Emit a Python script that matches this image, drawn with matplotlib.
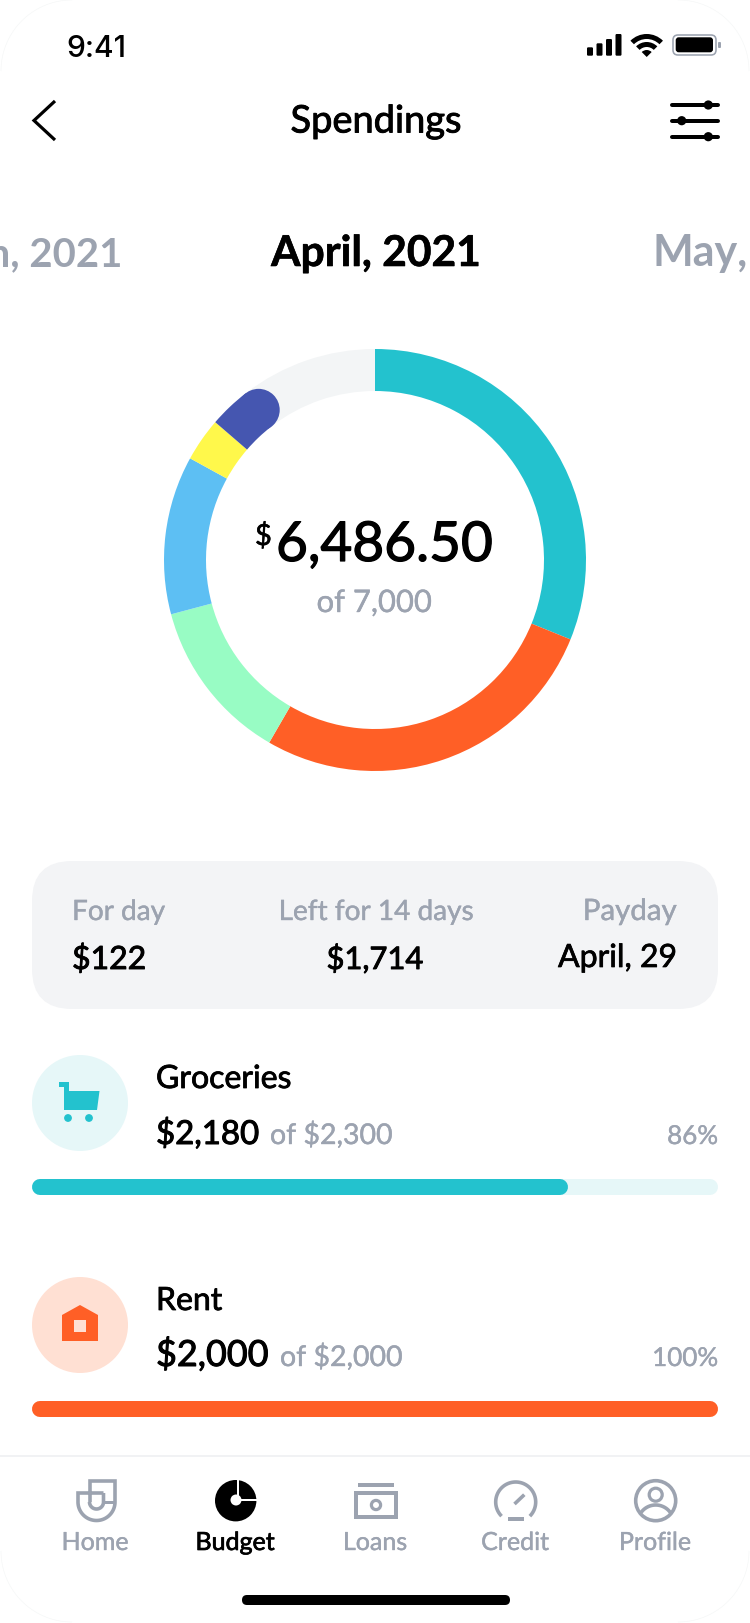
import numpy as np
import matplotlib
matplotlib.use("Agg")
import matplotlib.pyplot as plt
import matplotlib.patheffects as pe
from matplotlib.patches import Circle, FancyBboxPatch, Polygon, Rectangle, Wedge

# amounts along the ring, out of the 7,000 budget
donut_labels = ["Groceries", "Rent", "Health", "Transport", "Fun", "Other", "Left"]
donut_values = [2180, 1905, 875, 850, 233, 222, 735]
donut_colors = ["#23C2CE", "#FF5F26", "#98FCC4", "#5DBFF3", "#FFF84B", "#4556B0", "#F3F5F6"]

summary_heads = ["For day", "Left for 14 days", "Payday"]
summary_values = ["$122", "$1,714", "April, 29"]

cat_names = ["Groceries", "Rent"]
cat_spent = ["$2,180", "$2,000"]
cat_limit = ["of $2,300", "of $2,000"]
cat_pct = ["86%", "100%"]
cat_fill = [77.6, 100]
cat_colors = ["#23C2CE", "#FF5F26"]
cat_tracks = ["#E6F7F8", "#FFE0D3"]

nav_labels = ["Home", "Budget", "Loans", "Credit", "Profile"]

GRAY = "#9CA3B0"
FONT = "Lato"
W, H = 750, 1624

fig = plt.figure(figsize=(W / 100, H / 100), dpi=100, facecolor="white")
ax = fig.add_axes([0, 0, 1, 1])
ax.set_xlim(0, W)
ax.set_ylim(H, 0)
ax.axis("off")


def px(v):
    return v * 72 / 100


def txt(x, y, s, size, color="black", weight="normal", ha="left", family=FONT, heavy=0):
    t = ax.text(x, y, s, fontsize=px(size), color=color, fontweight=weight, ha=ha,
                va="baseline", family=family)
    if heavy:
        t.set_path_effects([pe.withStroke(linewidth=px(heavy), foreground=color)])


def line(xs, ys, lw, color="black", cap="butt", join="miter"):
    ax.plot(xs, ys, lw=px(lw), color=color, solid_capstyle=cap, solid_joinstyle=join)


def arc(cx, cy, r, a0, a1):
    t = np.radians(np.linspace(a0, a1, 60))
    return cx + r * np.cos(t), cy + r * np.sin(t)


def rbox(x0, y0, x1, y1, r, color):
    ax.add_patch(FancyBboxPatch((x0 + r, y0 + r), x1 - x0 - 2 * r, y1 - y0 - 2 * r,
                                boxstyle=f"round,pad={r},rounding_size={r}",
                                fc=color, ec="none"))


# phone outline, barely visible
for ccx, ccy, a0 in [(72, 72, 180), (W - 72, 72, 270), (W - 72, H - 72, 0), (72, H - 72, 90)]:
    ox, oy = arc(ccx, ccy, 71, a0, a0 + 90)
    line(ox, oy, 0.6, "#F4F6F6")

# status bar
txt(66, 57, "9:41", 30, weight="medium", family="Inter")
for x0, top in zip([587, 596.5, 606, 615.5], [48.3, 44.3, 40, 35]):
    rbox(x0, top, x0 + 6, 56.7, 1.2, "black")
ax.add_patch(Wedge((646.7, 58), 23, -135, -45, width=5, fc="black", ec="none"))
ax.add_patch(Wedge((646.7, 58), 15, -135, -45, width=5, fc="black", ec="none"))
ax.add_patch(Wedge((646.7, 58), 7, -135, -45, fc="black", ec="none"))
ax.add_patch(FancyBboxPatch((676, 39), 37, 14, boxstyle="round,pad=3,rounding_size=5",
                            fc="none", ec=GRAY, lw=px(1.6)))
rbox(675.7, 38.3, 713, 53.3, 3, "black")
rbox(718, 43, 721, 49, 1, GRAY)

# header
line([55, 34, 55], [102, 121.5, 141], 3.2)
txt(376, 133.5, "Spendings", 38, ha="center", heavy=0.9)
for y, kx in zip([106, 121.7, 137.7], [708.3, 681.7, 708.3]):
    line([672.3, 717.7], [y, y], 4, cap="round")
    ax.add_patch(Circle((kx, y), 4.6, fc="black", ec="none"))

# months
txt(122, 266, "March, 2021", 40, GRAY, "bold", ha="right")
txt(376, 267, "April, 2021", 42.5, "black", "bold", ha="center", heavy=0.6)
txt(653, 266, "May,", 43, GRAY, "bold")

# donut
cx, cy, R = 375, 561, 211
dax = fig.add_axes([(cx - R) / W, 1 - (cy + R) / H, 2 * R / W, 2 * R / H])
dax.pie(donut_values, colors=donut_colors, startangle=90, counterclock=False, radius=1,
        wedgeprops={"width": 42 / R, "edgecolor": "none"})
dax.set_xlim(-1, 1)
dax.set_ylim(-1, 1)
cap_angle = np.radians(90 - sum(donut_values[:6]) / sum(donut_values) * 360)
dax.add_patch(Circle((0.9 * np.cos(cap_angle), 0.9 * np.sin(cap_angle)), 0.1,
                     fc=donut_colors[5], ec="none"))
txt(255, 546, "$", 29, heavy=0.6)
txt(276, 562, "6,486.50", 55, heavy=1.2)
txt(374, 613, "of 7,000", 31, GRAY, ha="center", heavy=0.4)

# summary card
rbox(32, 862, 718, 1010, 40, "#F3F4F6")
txt(72, 921, summary_heads[0], 28, GRAY, heavy=0.4)
txt(376, 921, summary_heads[1], 28, GRAY, ha="center", heavy=0.4)
txt(677, 921, summary_heads[2], 29.5, GRAY, ha="right", heavy=0.4)
txt(72, 970, summary_values[0], 32, heavy=0.9)
txt(375, 970, summary_values[1], 31, ha="center", heavy=0.9)
txt(677, 968, summary_values[2], 32, ha="right", heavy=0.7)

# category rows
row_icon_y = [1104, 1326]
row_name_y = [1089, 1311]
row_val_y = [1145, 1367]
row_bar_y = [1188, 1410]
limit_x = [270, 280]
spent_size = [33, 36]
for i in range(2):
    ax.add_patch(Circle((80, row_icon_y[i]), 48, fc=cat_tracks[i], ec="none"))
    txt(156, row_name_y[i], cat_names[i], 32, heavy=0.8)
    txt(156, row_val_y[i], cat_spent[i], spent_size[i], heavy=1)
    txt(limit_x[i], row_val_y[i], cat_limit[i], 28.5, GRAY, heavy=0.4)
    txt(718, row_val_y[i], cat_pct[i], 26, GRAY, ha="right", heavy=0.4)

    # progress bar has its own 0-100 scale, caps add the last 8 px
    bax = fig.add_axes([40 / W, 1 - (row_bar_y[i] + 8) / H, 670 / W, 16 / H])
    bax.set_xlim(0, 100)
    bax.set_ylim(-1, 1)
    bax.axis("off")
    for val, col in ((100, cat_tracks[i]), (cat_fill[i], cat_colors[i])):
        ln, = bax.plot([0, val], [0, 0], lw=px(16), color=col, solid_capstyle="round")
        ln.set_clip_on(False)

# cart icon
ax.add_patch(Polygon([(64, 1092), (99.5, 1092), (97, 1111), (64, 1111)], fc=cat_colors[0], ec="none"))
ax.add_patch(Rectangle((64, 1083), 5, 10, fc=cat_colors[0], ec="none"))
ax.add_patch(Rectangle((58.5, 1083), 6, 4.5, fc=cat_colors[0], ec="none"))
ax.add_patch(Circle((68, 1119), 3.9, fc=cat_colors[0], ec="none"))
ax.add_patch(Circle((89, 1119), 3.9, fc=cat_colors[0], ec="none"))

# house icon
ax.add_patch(Polygon([(62, 1316), (80, 1306), (98, 1316), (98, 1342), (62, 1342)], fc=cat_colors[1], ec="none"))
ax.add_patch(Rectangle((74, 1321), 12, 12, fc=cat_tracks[1], ec="none"))

# bottom nav
line([0, W], [1457, 1457], 2, "#F1F2F4")
nav_x = [95, 235, 375, 515, 655]
for x, label in zip(nav_x, nav_labels):
    active = label == "Budget"
    txt(x, 1551, label, 25, "black" if active else GRAY, ha="center", heavy=0.7 if active else 0.4)

# home icon
ox, oy = arc(96.5, 1503, 18.5, 180, 0)
line([103.5, 78] + list(ox) + [115, 90, 90], [1494, 1494] + list(oy) + [1482, 1482, 1503], 3.6, GRAY)
ix, iy = arc(96.5, 1503, 7, 180, 0)
line(list(ix) + [103.5], list(iy) + [1494], 3.6, GRAY)
line([103.5, 115], [1503, 1503], 3, GRAY)

# budget icon
ax.add_patch(Circle((235.7, 1501.7), 20.7, fc="black", ec="none"))
line([237.5, 237.5], [1480, 1498], 2, "white")
line([238, 258], [1500.5, 1500.5], 2, "white")
ax.add_patch(Circle((236, 1501), 5.5, fc="white", ec="none"))

# loans icon
line([358, 394], [1485.7, 1485.7], 4, GRAY)
ax.add_patch(Rectangle((356, 1494), 40, 24, fc="none", ec=GRAY, lw=px(4)))
ax.add_patch(Circle((376, 1506), 4.6, fc="none", ec=GRAY, lw=px(3.2)))

# credit icon
gx, gy = arc(515.7, 1503, 20, 135, 405)
line(gx, gy, 3.6, GRAY)
line([514.5, 524.3], [1505, 1495.7], 3.6, GRAY)
line([508, 524], [1520, 1520], 4, GRAY)

# profile icon
ax.add_patch(Circle((655.7, 1501.7), 20, fc="none", ec=GRAY, lw=px(3.6)))
ax.add_patch(Circle((655.7, 1495.7), 6.5, fc="none", ec=GRAY, lw=px(3.2)))
sx, sy = arc(655.7, 1524, 18, 215, 325)
line(sx, sy, 3.6, GRAY)

# home indicator
rbox(242, 1596, 510, 1606, 5, "black")

fig.savefig("out.png", dpi=100, facecolor="white")
